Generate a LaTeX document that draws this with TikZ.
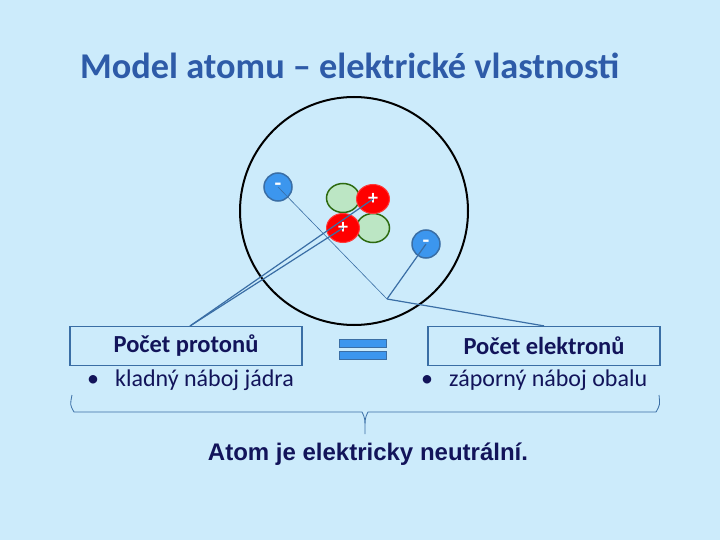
\documentclass[tikz,border=0pt]{standalone}
\usepackage{fontspec}
\setmainfont{Carlito}
\newfontfamily\arial{Liberation Sans}
\definecolor{bg}{HTML}{CCEBFB}
\definecolor{ttl}{HTML}{2E5BA8}
\definecolor{navy}{HTML}{12145A}
\definecolor{lnc}{HTML}{3A6EA5}
\definecolor{eblue}{HTML}{3C96EE}
\definecolor{pgreen}{HTML}{BCE6C4}
\definecolor{dgreen}{HTML}{2D6A10}
\tikzset{
 elec/.style={circle,fill=eblue,draw=lnc,line width=1.5pt,minimum size=28pt,inner sep=0pt,text=white,font=\fontsize{22pt}{22pt}\selectfont\bfseries},
 neut/.style={ellipse,fill=pgreen,draw=dgreen,line width=1.5pt,minimum width=33pt,minimum height=29pt,inner sep=0pt},
 prot/.style={ellipse,fill=red,draw=red!70!pink,line width=1pt,minimum width=33pt,minimum height=29pt,inner sep=0pt,text=white,font=\fontsize{20pt}{20pt}\selectfont\bfseries},
 lbox/.style={draw=lnc,line width=1.2pt,minimum width=232pt,minimum height=39pt,font=\fontsize{24.5pt}{27pt}\selectfont\bfseries,text=navy},
 bul/.style={font=\fontsize{24pt}{27pt}\selectfont,text=navy},
 cl/.style={lnc,line width=1.2pt},
 bar/.style={fill=eblue,draw=lnc,line width=1pt}
}
\usetikzlibrary{shapes.geometric}
\begin{document}
\begin{tikzpicture}[x=1pt,y=-1pt]
\fill[bg] (0,0) rectangle (720,540);
\node[text=ttl,font=\fontsize{36.3pt}{40pt}\selectfont\bfseries,anchor=west,inner sep=0pt] (title) at (80,66) {Model atomu -- elektrické vlastnosti};
\node[circle,draw=black,line width=2pt,minimum size=228pt,inner sep=0pt] (atom) at (354,211) {};
\node[neut] (n1) at (343,198) {};
\node[neut] (n2) at (373,228) {};
\node[prot] (p1) at (373,199) {+};
\node[prot] (p2) at (343,228) {+};
\node[elec] (e1) at (278,187) {-};
\node[elec] (e2) at (426,244) {-};
\node[lbox] (b1) at (186,346) {Počet protonů};
\node[lbox] (b2) at (544,346) {Počet elektronů};
\coordinate (c1) at (190,326);
\coordinate (c2) at (387,299);
\draw[cl] (c1) -- (p1.center);
\draw[cl] (c1) -- (p2.center);
\draw[lnc,line width=0.6pt] (c2) -- (e1.center);
\draw[cl] (c2) -- (e2.center);
\draw[cl] (c2) -- (b2.north);
\draw[bar] (339,339) rectangle (386,347);
\draw[bar] (339,351) rectangle (386,359);
\node[bul,anchor=west,inner sep=0pt] (t1) at (87,380) {\textbullet\hspace{16pt}kladný náboj jádra};
\node[bul,anchor=west,inner sep=0pt] (t2) at (421,380) {\textbullet\hspace{16pt}záporný náboj obalu};
\draw[lnc,line width=0.8pt] (72,395) .. controls (70,405) .. (74,412) -- (362,412) .. controls (365,418) .. (365,434) .. controls (365,418) .. (368,412) -- (656,412) .. controls (660,405) .. (659,395);
\node[text=navy,font=\arial\fontsize{24pt}{28pt}\selectfont\bfseries,inner sep=0pt] (conc) at (368,454) {Atom je elektricky neutrální.};
\end{tikzpicture}
\end{document}
